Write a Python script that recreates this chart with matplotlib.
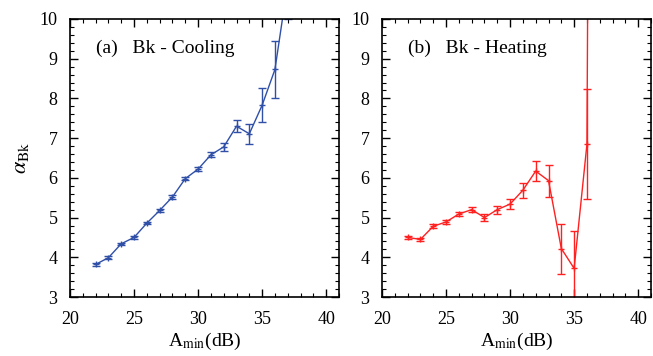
import matplotlib
matplotlib.use("Agg")
import matplotlib.pyplot as plt
from matplotlib.ticker import MultipleLocator

plt.rcParams['font.family'] = ['Liberation Serif', 'DejaVu Serif']
plt.rcParams['mathtext.fontset'] = 'stix'

# A_min (dB)
a_min = [22, 23, 24, 25, 26, 27, 28, 29, 30, 31, 32, 33, 34, 35, 36, 37]

# panel (a) Bk - Cooling
cool = [3.82, 3.99, 4.34, 4.50, 4.86, 5.18, 5.52, 5.98, 6.22, 6.58, 6.78, 7.30, 7.11, 7.83, 8.73, 10.9]
cool_err = [0.03, 0.03, 0.03, 0.03, 0.03, 0.03, 0.04, 0.04, 0.05, 0.06, 0.10, 0.15, 0.25, 0.42, 0.71, 0.9]

# panel (b) Bk - Heating
heat = [4.50, 4.45, 4.78, 4.89, 5.09, 5.20, 5.00, 5.20, 5.34, 5.69, 6.17, 5.93, 4.22, 3.72, 6.85, 70.0]
heat_err = [0.04, 0.04, 0.05, 0.05, 0.05, 0.07, 0.08, 0.10, 0.13, 0.19, 0.26, 0.40, 0.63, 0.94, 1.39, 5.0]

fig = plt.figure(figsize=(6.53, 3.56), dpi=100)
ax1 = fig.add_axes([70/653, 1-297/356, 269/653, 278/356])
ax2 = fig.add_axes([382/653, 1-297/356, 269/653, 278/356])

panels = [(ax1, cool, cool_err, '#3050a8', '(a)   Bk - Cooling'),
          (ax2, heat, heat_err, '#ff2020', '(b)   Bk - Heating')]

for ax, y, e, c, lab in panels:
    ax.errorbar(a_min, y, yerr=e, color=c, lw=1.0, marker='+', ms=5, mew=1.0,
                capsize=3, elinewidth=1.0, capthick=1.0)
    ax.set_xlim(20, 41)
    ax.set_ylim(3, 10)
    ax.xaxis.set_major_locator(MultipleLocator(5))
    ax.xaxis.set_minor_locator(MultipleLocator(1))
    ax.yaxis.set_major_locator(MultipleLocator(1))
    ax.yaxis.set_minor_locator(MultipleLocator(0.2))
    ax.tick_params(which='both', direction='in', top=True, right=True, labelsize=13)
    ax.tick_params(which='major', length=6, width=1)
    ax.tick_params(which='minor', length=3, width=0.8)
    ax.tick_params(axis='x', which='major', pad=10)
    ax.tick_params(axis='y', which='major', pad=9)
    for s in ax.spines.values():
        s.set_linewidth(1.2)
    ax.set_xlabel(r'A$_{\rm min}$(dB)', fontsize=14, labelpad=2)
    ax.text(22.0, 9.27, lab, fontsize=14, va='center', ha='left')

ax1.set_ylabel(r'$\alpha_{\rm Bk}$', fontsize=16, labelpad=6)

fig.savefig('out.png', dpi=100)
